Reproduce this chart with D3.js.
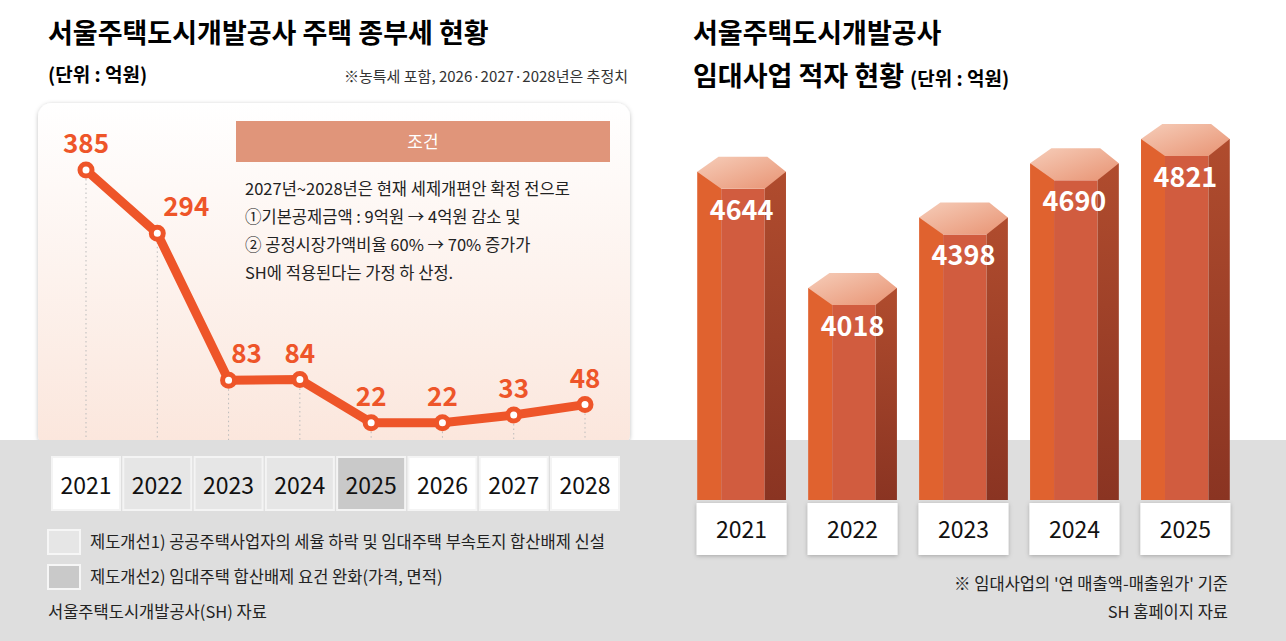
<!DOCTYPE html>
<html><head><meta charset="utf-8">
<script src="https://cdn.jsdelivr.net/npm/d3@7"></script>
<style>
body{margin:0;background:#fff;}
text{font-family:"Noto Sans CJK KR","Noto Sans",sans-serif;}
</style></head>
<body><div id="chart"></div>
<script>
// data
var taxYears = ["2021","2022","2023","2024","2025","2026","2027","2028"];
var taxValues = [385, 294, 83, 84, 22, 22, 33, 48];
var yearShade = ["#ffffff","#e6e6e6","#e6e6e6","#e6e6e6","#c9c9c9","#ffffff","#ffffff","#ffffff"];
var lossYears = ["2021","2022","2023","2024","2025"];
var lossValues = [4644, 4018, 4398, 4690, 4821];
var conditionLines = [
  "2027년~2028년은 현재 세제개편안 확정 전으로",
  "①기본공제금액 : 9억원 → 4억원 감소 및",
  "② 공정시장가액비율 60% → 70% 증가가",
  "SH에 적용된다는 가정 하 산정."
];
var legendItems = [
  {label:"제도개선1) 공공주택사업자의 세율 하락 및 임대주택 부속토지 합산배제 신설", fill:"#e6e6e6"},
  {label:"제도개선2) 임대주택 합산배제 요건 완화(가격, 면적)", fill:"#c9c9c9"}
];

var W = 1286, H = 641, orange = "#ee5529";
var svg = d3.select("#chart").append("svg").attr("width", W).attr("height", H);
var defs = svg.append("defs");

var g1 = defs.append("linearGradient").attr("id","card").attr("x1",0).attr("y1",0).attr("x2",0).attr("y2",1);
g1.append("stop").attr("offset","0%").attr("stop-color","#ffffff");
g1.append("stop").attr("offset","100%").attr("stop-color","#fbe6dc");
var g2 = defs.append("linearGradient").attr("id","cap").attr("x1",0).attr("y1",0).attr("x2",1).attr("y2",1);
g2.append("stop").attr("offset","0%").attr("stop-color","#f6cdb9");
g2.append("stop").attr("offset","100%").attr("stop-color","#e89373");
var g3 = defs.append("linearGradient").attr("id","rside").attr("x1",0).attr("y1",0).attr("x2",0).attr("y2",1);
g3.append("stop").attr("offset","0%").attr("stop-color","#b04c2e");
g3.append("stop").attr("offset","100%").attr("stop-color","#8a3422");
defs.append("filter").attr("id","sh").append("feDropShadow")
  .attr("dx",0).attr("dy",1).attr("stdDeviation",2).attr("flood-opacity",0.25);

// gray bottom strip
svg.append("rect").attr("x",0).attr("y",440).attr("width",W).attr("height",H-440).attr("fill","#dedede");

// ---------- left panel ----------
svg.append("rect").attr("x",38).attr("y",103).attr("width",592).attr("height",345).attr("rx",14)
  .attr("fill","url(#card)").attr("filter","url(#sh)");
svg.append("rect").attr("x",0).attr("y",440).attr("width",660).attr("height",201).attr("fill","#dedede");

svg.append("text").attr("x",48).attr("y",43).attr("font-size",27).attr("font-weight",700)
  .text("서울주택도시개발공사 주택 종부세 현황");
svg.append("text").attr("x",48).attr("y",82).attr("font-size",19).attr("font-weight",700).text("(단위 : 억원)");
svg.append("text").attr("x",628).attr("y",82).attr("text-anchor","end").attr("font-size",15).attr("fill","#333")
  .text("※농특세 포함, 2026·2027·2028년은 추정치");

var x1 = d3.scalePoint().domain(taxYears).range([86, 585]);
var y1 = d3.scaleLinear().domain([0, 385]).range([438, 170]);
// label nudges so numbers clear the line
var labelDx = [0, 29, 18, 0, 0, 0, 0, 0];

svg.append("g").selectAll("line").data(taxYears).enter().append("line")
  .attr("x1", d => x1(d)).attr("x2", d => x1(d))
  .attr("y1", (d,i) => y1(taxValues[i])).attr("y2", 440)
  .attr("stroke","#bbb").attr("stroke-dasharray","1.5,3");

var cx = 236;
svg.append("rect").attr("x",cx).attr("y",121).attr("width",374).attr("height",41).attr("fill","#e0957a");
svg.append("text").attr("x",cx+187).attr("y",148).attr("text-anchor","middle").attr("fill","#fff")
  .attr("font-size",17).text("조건");
svg.append("g").selectAll("text").data(conditionLines).enter().append("text")
  .attr("x",245).attr("y",(d,i) => 195 + i*28).attr("font-size",16.5).attr("fill","#222").text(d => d);

var line = d3.line().x((d,i) => x1(taxYears[i])).y(d => y1(d));
svg.append("path").datum(taxValues).attr("d",line).attr("fill","none")
  .attr("stroke",orange).attr("stroke-width",9).attr("stroke-linejoin","round");
svg.append("g").selectAll("circle").data(taxValues).enter().append("circle")
  .attr("cx",(d,i) => x1(taxYears[i])).attr("cy",d => y1(d)).attr("r",6)
  .attr("fill","#fff").attr("stroke",orange).attr("stroke-width",5);
svg.append("g").selectAll("text").data(taxValues).enter().append("text")
  .attr("x",(d,i) => x1(taxYears[i]) + labelDx[i]).attr("y",d => y1(d) - 17)
  .attr("text-anchor","middle").attr("font-size",26).attr("font-weight",700).attr("fill",orange)
  .text(d => d);

var yb = svg.append("g").selectAll("g").data(taxYears).enter().append("g");
yb.append("rect").attr("x",d => x1(d) - 34).attr("y",457).attr("width",68).attr("height",53)
  .attr("fill",(d,i) => yearShade[i]).attr("stroke","#f4f4f4").attr("stroke-width",2);
yb.append("text").attr("x",d => x1(d)).attr("y",494).attr("text-anchor","middle")
  .attr("font-size",23).attr("fill","#111").text(d => d);

var lg = svg.append("g").selectAll("g").data(legendItems).enter().append("g")
  .attr("transform",(d,i) => `translate(48,${530 + i*35})`);
lg.append("rect").attr("width",32).attr("height",24).attr("fill",d => d.fill).attr("stroke","#f6f6f6").attr("stroke-width",2);
lg.append("text").attr("x",42).attr("y",18).attr("font-size",16.5).attr("fill","#222").text(d => d.label);
svg.append("text").attr("x",48).attr("y",618).attr("font-size",16.5).attr("fill","#222").text("서울주택도시개발공사(SH) 자료");

// ---------- right panel ----------
svg.append("text").attr("x",693).attr("y",43).attr("font-size",27).attr("font-weight",700).text("서울주택도시개발공사");
var t2 = svg.append("text").attr("x",693).attr("y",86).attr("font-size",27).attr("font-weight",700).text("임대사업 적자 현황 ");
t2.append("tspan").attr("font-size",19).text("(단위 :  억원)");

var x2 = d3.scaleBand().domain(lossYears).range([695, 1232]).paddingInner(0.2).paddingOuter(0.02);
var y2 = d3.scaleLinear().domain([4018, 4821]).range([273, 124]);
var bw = x2.bandwidth();

var bars = svg.append("g").selectAll("g").data(lossValues).enter().append("g")
  .attr("transform",(d,i) => `translate(${x2(lossYears[i])},0)`);
var a = bw*0.27, b = bw*0.76, cap = 32, bottom = 500;
bars.append("rect").attr("x",0).attr("y",d => y2(d)+15).attr("width",a).attr("height",d => bottom - y2(d) - 15).attr("fill","#e0622f");
bars.append("rect").attr("x",a).attr("y",d => y2(d)+cap).attr("width",b-a).attr("height",d => bottom - y2(d) - cap).attr("fill","#d15c3f");
bars.append("rect").attr("x",b).attr("y",d => y2(d)+15).attr("width",bw-b).attr("height",d => bottom - y2(d) - 15).attr("fill","url(#rside)");
bars.append("polygon").attr("points",d => {
  var t = y2(d);
  return [[0,t+15],[bw*0.24,t],[bw*0.79,t],[bw,t+15],[b,t+cap],[a,t+cap]].map(p => p.join(",")).join(" ");
}).attr("fill","url(#cap)");
bars.append("text").attr("x",bw/2).attr("y",d => y2(d)+63).attr("text-anchor","middle")
  .attr("font-size",27).attr("font-weight",700).attr("fill","#fff").text(d => d);

var yb2 = svg.append("g").selectAll("g").data(lossYears).enter().append("g");
yb2.append("rect").attr("x",d => x2(d) + bw/2 - 45).attr("y",503).attr("width",90).attr("height",52)
  .attr("fill","#fff").attr("filter","url(#sh)");
yb2.append("text").attr("x",d => x2(d) + bw/2).attr("y",538).attr("text-anchor","middle")
  .attr("font-size",23).attr("fill","#111").text(d => d);

svg.append("text").attr("x",1228).attr("y",590).attr("text-anchor","end").attr("font-size",16.5).attr("fill","#222")
  .text("※ 임대사업의 '연 매출액-매출원가' 기준");
svg.append("text").attr("x",1228).attr("y",618).attr("text-anchor","end").attr("font-size",16.5).attr("fill","#222")
  .text("SH 홈페이지 자료");
</script></body></html>
